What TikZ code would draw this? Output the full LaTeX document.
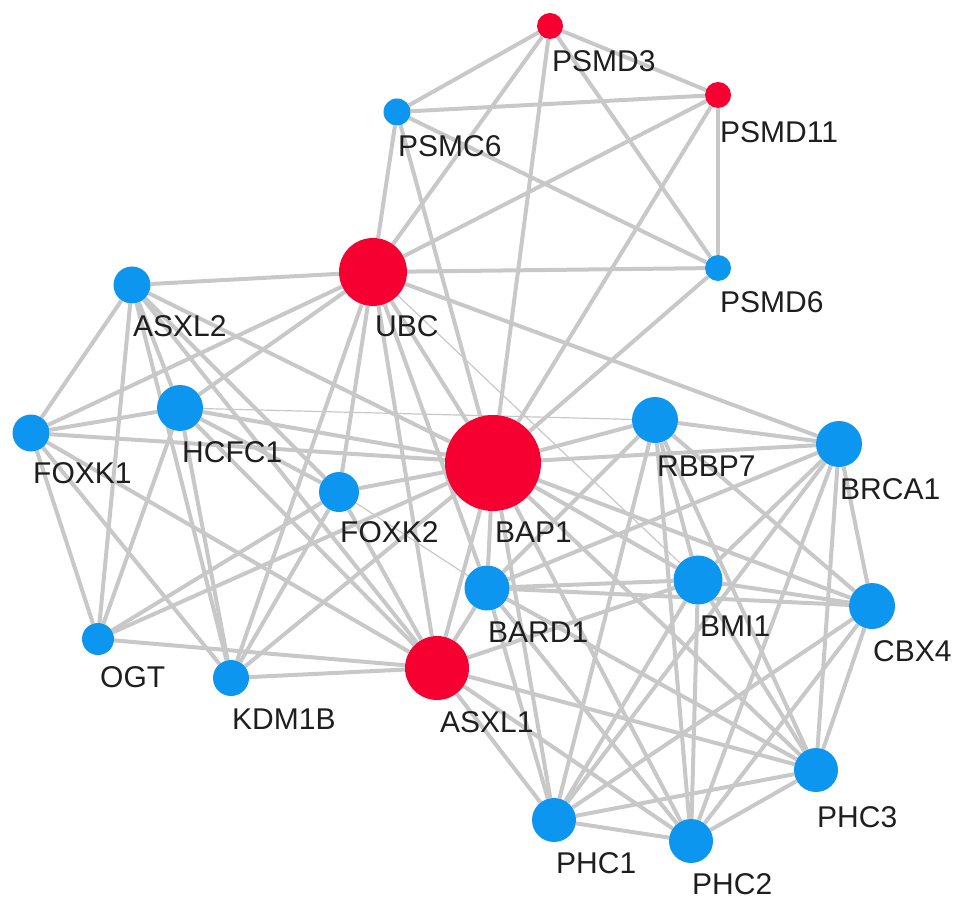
\documentclass[tikz,border=0pt]{standalone}
\usepackage{fontspec}
\setmainfont{Liberation Sans}
\usetikzlibrary{backgrounds}
\definecolor{nred}{RGB}{245,0,48}
\definecolor{nblue}{RGB}{12,150,240}
\definecolor{egray}{RGB}{200,200,200}
\definecolor{ltext}{RGB}{30,30,30}
\begin{document}
\begin{tikzpicture}[x=1pt,y=-1pt,
  gn/.style={circle,inner sep=0pt,draw=none},
  rn/.style={gn,fill=nred},
  bn/.style={gn,fill=nblue},
  edge/.style={draw=egray,line width=4pt},
  thinedge/.style={draw=egray,line width=1.2pt},
  lab/.style={anchor=west,inner sep=0pt,font=\fontsize{30}{36}\selectfont,text=ltext}]
\useasboundingbox (0,0) rectangle (969,909);
% nodes
\node[rn,minimum size=26pt] (psmd3)  at (550,26)  {};
\node[rn,minimum size=26pt] (psmd11) at (718,95)  {};
\node[bn,minimum size=27pt] (psmc6)  at (397,112) {};
\node[bn,minimum size=26pt] (psmd6)  at (718,268) {};
\node[rn,minimum size=68pt] (ubc)    at (373,272) {};
\node[bn,minimum size=37pt] (asxl2)  at (132,285) {};
\node[bn,minimum size=37pt] (foxk1)  at (31,433)  {};
\node[bn,minimum size=46pt] (hcfc1)  at (180,408) {};
\node[bn,minimum size=40pt] (foxk2)  at (339,492) {};
\node[rn,minimum size=96pt] (bap1)   at (493,463) {};
\node[bn,minimum size=46pt] (rbbp7)  at (655,420) {};
\node[bn,minimum size=46pt] (brca1)  at (839,444) {};
\node[bn,minimum size=45pt] (bard1)  at (487,588) {};
\node[bn,minimum size=49pt] (bmi1)   at (698,580) {};
\node[bn,minimum size=46pt] (cbx4)   at (872,606) {};
\node[bn,minimum size=32pt] (ogt)    at (98,639)  {};
\node[bn,minimum size=36pt] (kdm1b)  at (231,678) {};
\node[rn,minimum size=64pt] (asxl1)  at (437,668) {};
\node[bn,minimum size=44pt] (phc3)   at (816,770) {};
\node[bn,minimum size=44pt] (phc1)   at (554,820) {};
\node[bn,minimum size=44pt] (phc2)   at (691,841) {};
% labels
\node[lab] (lpsmd3)  at (552,61)  {PSMD3};
\node[lab] (lpsmd11) at (720,132) {PSMD11};
\node[lab] (lpsmc6)  at (398,146) {PSMC6};
\node[lab] (lpsmd6)  at (720,302) {PSMD6};
\node[lab] (lubc)    at (375,326) {UBC};
\node[lab] (lasxl2)  at (133,326) {ASXL2};
\node[lab] (lfoxk1)  at (33,473)  {FOXK1};
\node[lab] (lhcfc1)  at (182,452) {HCFC1};
\node[lab] (lfoxk2)  at (340,532) {FOXK2};
\node[lab] (lbap1)   at (495,532) {BAP1};
\node[lab] (lrbbp7)  at (657,466) {RBBP7};
\node[lab] (lbrca1)  at (840,489) {BRCA1};
\node[lab] (lbard1)  at (488,632) {BARD1};
\node[lab] (lbmi1)   at (700,626) {BMI1};
\node[lab] (lcbx4)   at (873,651) {CBX4};
\node[lab] (logt)    at (100,677) {OGT};
\node[lab] (lkdm1b)  at (232,719) {KDM1B};
\node[lab] (lasxl1)  at (440,722) {ASXL1};
\node[lab] (lphc1)   at (556,863) {PHC1};
\node[lab] (lphc2)   at (692,884) {PHC2};
\node[lab] (lphc3)   at (817,817) {PHC3};
% edges
\begin{pgfonlayer}{background}
\foreach \a/\b in {
  psmd3/psmc6, psmd3/psmd11, psmd3/ubc, psmd3/bap1, psmd3/psmd6,
  psmc6/psmd11, psmc6/ubc, psmc6/bap1, psmc6/psmd6,
  psmd11/ubc, psmd11/psmd6, psmd11/bap1,
  psmd6/ubc, psmd6/bap1,
  ubc/asxl2, ubc/hcfc1, ubc/foxk1, ubc/bap1, ubc/foxk2, ubc/kdm1b,
  ubc/asxl1, ubc/brca1, ubc/bard1,
  asxl2/foxk1, asxl2/hcfc1, asxl2/ogt, asxl2/kdm1b, asxl2/foxk2,
  asxl2/bap1, asxl2/asxl1,
  foxk1/hcfc1, foxk1/bap1, foxk1/ogt, foxk1/kdm1b, foxk1/asxl1,
  hcfc1/bap1, hcfc1/foxk2, hcfc1/ogt, hcfc1/kdm1b, hcfc1/asxl1,
  foxk2/bap1, foxk2/kdm1b, foxk2/asxl1, foxk2/ogt,
  ogt/bap1, ogt/asxl1,
  kdm1b/asxl1, kdm1b/bap1,
  asxl1/bap1, asxl1/bard1, asxl1/bmi1, asxl1/phc1, asxl1/phc2, asxl1/phc3,
  bap1/rbbp7, bap1/brca1, bap1/bard1, bap1/bmi1, bap1/cbx4,
  bap1/phc1, bap1/phc2, bap1/phc3,
  rbbp7/brca1, rbbp7/bard1, rbbp7/bmi1, rbbp7/cbx4, rbbp7/phc1,
  rbbp7/phc2, rbbp7/phc3,
  brca1/bard1, brca1/bmi1, brca1/cbx4, brca1/phc1, brca1/phc2, brca1/phc3,
  bard1/bmi1, bard1/cbx4, bard1/phc1, bard1/phc2, bard1/phc3,
  bmi1/cbx4, bmi1/phc1, bmi1/phc2, bmi1/phc3,
  cbx4/phc1, cbx4/phc2, cbx4/phc3,
  phc1/phc2, phc1/phc3, phc2/phc3}
  \draw[edge] (\a) -- (\b);
\foreach \a/\b in {hcfc1/rbbp7, ubc/bmi1, foxk2/bard1}
  \draw[thinedge] (\a) -- (\b);
\end{pgfonlayer}
\end{tikzpicture}
\end{document}
